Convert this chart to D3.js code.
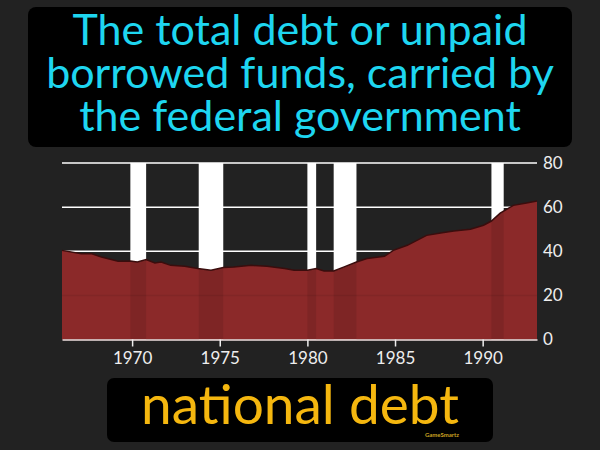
<!DOCTYPE html>
<html><head><meta charset="utf-8">
<script src="https://cdn.jsdelivr.net/npm/d3@7"></script>
<style>html,body{margin:0;padding:0;background:#222222;}svg{display:block;}</style>
</head><body>
<script>
const titleLines = ["The total debt or unpaid", "borrowed funds, carried by", "the federal government"];
const termText = "national debt";
const years = [1966.0,1967.1,1967.7,1968.25,1969.2,1969.9,1970.3,1970.8,1971.3,1971.65,1972.2,1973.0,1973.75,1974.5,1975.2,1975.8,1976.8,1977.7,1978.7,1979.25,1980.0,1980.5,1980.95,1981.5,1982.1,1982.8,1983.4,1984.4,1984.9,1985.7,1986.8,1987.6,1988.35,1989.3,1990.05,1990.5,1991.0,1991.75,1992.5,1993.1];
const debt = [40.4,38.9,38.9,37.4,35.5,35.6,35.1,36.2,34.7,35.1,33.6,33.2,32.2,31.4,32.6,32.9,33.6,33.2,32.2,31.4,31.4,32.2,31.1,31.1,32.9,35.1,36.7,37.7,40.4,42.7,47.2,48.3,49.2,50.0,51.8,53.7,57.3,60.8,61.9,62.8];
const recessionStart = [1969.9,1973.8,1980.0,1981.5,1990.5];
const recessionEnd = [1970.8,1975.2,1980.5,1982.8,1991.2];
const yTicks = [0,20,40,60,80];
const xTicks = [1970,1975,1980,1985,1990];

const W=600,H=450;
const FONT="Lato, 'Open Sans', sans-serif";
const svg=d3.select("body").append("svg").attr("width",W).attr("height",H);
svg.append("rect").attr("width",W).attr("height",H).attr("fill","#222222");

svg.append("rect").attr("x",28).attr("y",7).attr("width",544).attr("height",140).attr("rx",8).attr("fill","#000");
svg.selectAll("text.title").data(titleLines).enter().append("text")
  .attr("x",300).attr("y",(d,i)=>45+i*43).attr("text-anchor","middle")
  .attr("font-family",FONT).attr("font-size",43).attr("fill","#1ed6f0")
  .text(d=>d);

const x=d3.scaleLinear().domain([1966.0,1993.1]).range([62,537]);
const y=d3.scaleLinear().domain([0,80]).range([339.5,163]);

const g=svg.append("g");
g.selectAll("line.grid").data(yTicks.filter(v=>v>0)).enter().append("line")
  .attr("x1",x(1966.0)).attr("x2",x(1993.1)).attr("y1",d=>y(d)).attr("y2",d=>y(d))
  .attr("stroke","#ffffff").attr("stroke-width",1.5);
const rec=recessionStart.map((s,i)=>({s,e:recessionEnd[i]}));
g.selectAll("rect.rec").data(rec).enter().append("rect")
  .attr("x",d=>x(d.s)).attr("width",d=>x(d.e)-x(d.s))
  .attr("y",y(80)).attr("height",y(0)-y(80)).attr("fill","#ffffff");

const pts=years.map((yr,i)=>({yr,v:debt[i]}));
const area=d3.area().x(d=>x(d.yr)).y0(y(0)).y1(d=>y(d.v));
const line=d3.line().x(d=>x(d.yr)).y(d=>y(d.v));
g.append("path").datum(pts).attr("d",area).attr("fill","#8b2929");
svg.append("clipPath").attr("id","ac").append("path").datum(pts).attr("d",area);
g.append("g").attr("clip-path","url(#ac)").selectAll("rect").data(rec).enter().append("rect")
  .attr("x",d=>x(d.s)).attr("width",d=>x(d.e)-x(d.s))
  .attr("y",y(80)).attr("height",y(0)-y(80)).attr("fill","rgba(0,0,0,0.09)");
g.append("line").attr("x1",x(1966.0)).attr("x2",x(1993.1)).attr("y1",y(20)).attr("y2",y(20))
  .attr("stroke","rgba(0,0,0,0.07)").attr("stroke-width",1.5);
g.append("path").datum(pts).attr("d",line).attr("fill","none").attr("stroke","#3a0d0d").attr("stroke-width",1.5);

const xa=svg.append("g").attr("transform",`translate(0,${y(0)})`)
  .call(d3.axisBottom(x).tickValues(xTicks).tickFormat(d3.format("d")).tickSize(7).tickSizeOuter(0));
xa.select(".domain").attr("stroke","#f0e0e0").attr("stroke-width",1.5);
xa.selectAll(".tick line").attr("stroke","#eeeeee").attr("stroke-width",1.5);
xa.selectAll(".tick text").attr("fill","#eeeeee").attr("font-size",17).attr("font-family",FONT).attr("dy","0.85em");
const ya=svg.append("g").attr("transform",`translate(${x(1993.1)},0)`)
  .call(d3.axisRight(y).tickValues(yTicks).tickSize(0).tickPadding(6));
ya.select(".domain").remove();
ya.selectAll(".tick text").attr("fill","#eeeeee").attr("font-size",17).attr("font-family",FONT);

svg.append("rect").attr("x",107).attr("y",378).attr("width",386).attr("height",64).attr("rx",7).attr("fill","#000");
svg.append("text").attr("x",300).attr("y",424).attr("text-anchor","middle")
  .attr("font-family",FONT).attr("font-size",55).attr("fill","#f5b70f").text(termText);
svg.append("text").attr("x",459).attr("y",437).attr("text-anchor","end")
  .attr("font-family",FONT).attr("font-weight","bold").attr("font-size",6).attr("fill","#c9a020").text("GameSmartz");
</script>
</body></html>
